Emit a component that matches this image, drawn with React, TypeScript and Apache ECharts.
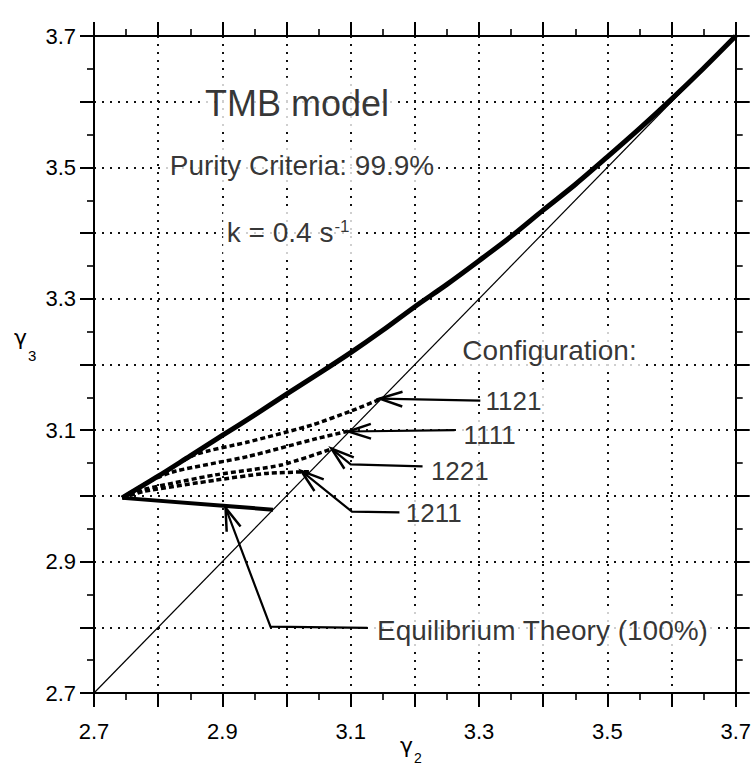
import React, { useEffect, useRef } from 'react';
import * as echarts from 'echarts';

// ---- data (gamma2, gamma3) ----
const upperX = [2.744, 2.8, 2.85, 2.9, 2.95, 3.0, 3.05, 3.1, 3.15, 3.2, 3.25, 3.3, 3.35, 3.4, 3.45, 3.5, 3.55, 3.6, 3.65, 3.7];
const upperY = [2.997, 3.03, 3.061, 3.092, 3.123, 3.155, 3.186, 3.218, 3.252, 3.288, 3.322, 3.358, 3.395, 3.435, 3.474, 3.516, 3.559, 3.604, 3.651, 3.7];

const eqX = [2.744, 2.979];
const eqY = [2.997, 2.979];

const diagX = [2.7, 3.7];
const diagY = [2.7, 3.7];

const c1121X = [2.744, 2.8, 2.858, 2.94, 3.04, 3.1, 3.148];
const c1121Y = [2.997, 3.03, 3.063, 3.082, 3.108, 3.129, 3.148];
const c1111X = [2.744, 2.79, 2.828, 2.94, 3.042, 3.098];
const c1111Y = [2.997, 3.024, 3.038, 3.06, 3.086, 3.099];
const c1221X = [2.744, 2.778, 2.889, 2.992, 3.072];
const c1221Y = [2.997, 3.01, 3.032, 3.047, 3.072];
const c1211X = [2.744, 2.778, 2.89, 2.966, 3.037];
const c1211Y = [2.997, 3.007, 3.024, 3.034, 3.037];

// arrow connectors: tip first, then elbow / end
const arrow1121 = [[3.145, 3.148], [3.302, 3.145]];
const arrow1111 = [[3.096, 3.098], [3.262, 3.1]];
const arrow1221 = [[3.07, 3.072], [3.1, 3.048], [3.212, 3.045]];
const arrow1211 = [[3.023, 3.038], [3.102, 2.976], [3.176, 2.975]];
const arrowEq = [[2.905, 2.982], [2.975, 2.801], [3.126, 2.799]];
const arrows = [arrow1121, arrow1111, arrow1221, arrow1211, arrowEq];

const noteTexts = ['TMB model', 'Purity Criteria: 99.9%', 'k = 0.4 s{sup|-1}', 'Configuration:', '1121', '1111', '1221', '1211', 'Equilibrium Theory (100%)'];
const noteX = [2.873, 2.818, 2.907, 3.274, 3.31, 3.276, 3.225, 3.186, 3.141];
const noteY = [3.597, 3.503, 3.401, 3.222, 3.145, 3.093, 3.038, 2.974, 2.795];

const AXIS_MIN = 2.7;
const AXIS_MAX = 3.7;
const STEP = 0.1;

const FONT = '"Liberation Sans", Arial, Helvetica, sans-serif';

const zip = (xs: number[], ys: number[]) => xs.map((x, i) => [x, ys[i]]);

const noteStyle = [
  { fontSize: 36, pad: [8, 5] },
  { fontSize: 28, pad: [7, 4] },
  { fontSize: 28, pad: [7, 4] },
  { fontSize: 28, pad: [5, 4] },
  { fontSize: 26, pad: [3, 3] },
  { fontSize: 26, pad: [3, 3] },
  { fontSize: 26, pad: [3, 3] },
  { fontSize: 26, pad: [3, 3] },
  { fontSize: 28, pad: [6, 4] },
];

const labelFmt = (v: number) => {
  const t = Math.round(v * 10);
  return t % 2 === 1 ? v.toFixed(1) : '';
};

function makeAxis(position: string, main: boolean) {
  return {
    type: 'value',
    min: AXIS_MIN,
    max: AXIS_MAX,
    interval: STEP,
    position,
    axisLine: { show: true, onZero: false, lineStyle: { color: '#000', width: 2 } },
    axisTick: { show: true, inside: false, length: 14, lineStyle: { color: '#000', width: 2 } },
    minorTick: { show: true, splitNumber: 2, length: 7, lineStyle: { color: '#000', width: 1.6 } },
    axisLabel: {
      show: main,
      formatter: labelFmt,
      fontSize: 22,
      fontFamily: FONT,
      color: '#000',
      margin: position === 'bottom' ? 27 : 18,
    },
    splitLine: { show: main, lineStyle: { color: '#111', width: 2, type: [2, 6] } },
    minorSplitLine: { show: false },
  };
}

export default function App() {
  const ref = useRef<HTMLDivElement>(null);

  useEffect(() => {
    if (!ref.current) return;
    const chart = echarts.init(ref.current, null, { renderer: 'svg' });

    const lineSeries = (name: string, xs: number[], ys: number[], width: number, type: any, z: number, smooth: any) => ({
      name,
      type: 'line',
      data: zip(xs, ys),
      symbol: 'none',
      smooth,
      lineStyle: { color: '#000', width, type, cap: 'butt', join: 'round' },
      z,
      silent: true,
    });

    const option: any = {
      animation: false,
      backgroundColor: '#fff',
      grid: { left: 94, right: 10, top: 36, bottom: 74, containLabel: false },
      xAxis: [makeAxis('bottom', true), makeAxis('top', false)],
      yAxis: [makeAxis('left', true), makeAxis('right', false)],
      graphic: [
        { type: 'text', x: 14, y: 337, style: { text: 'γ', fontSize: 22, fontFamily: '"DejaVu Sans", sans-serif', fill: '#000', verticalAlign: 'middle' } },
        { type: 'text', x: 28, y: 355, style: { text: '3', fontSize: 15, fontFamily: FONT, fill: '#000', verticalAlign: 'middle' } },
        { type: 'text', x: 400, y: 745, style: { text: 'γ', fontSize: 22, fontFamily: '"DejaVu Sans", sans-serif', fill: '#000', verticalAlign: 'middle' } },
        { type: 'text', x: 414, y: 758, style: { text: '2', fontSize: 14, fontFamily: FONT, fill: '#000', verticalAlign: 'middle' } },
      ],
      series: [
        lineSeries('diagonal', diagX, diagY, 1.2, 'solid', 2, false),
        lineSeries('1211', c1211X, c1211Y, 3.5, [5, 3], 3, 0.2),
        lineSeries('1221', c1221X, c1221Y, 3.5, [5, 3], 3, 0.2),
        lineSeries('1111', c1111X, c1111Y, 3.5, [5, 3], 3, 0.2),
        lineSeries('1121', c1121X, c1121Y, 3.5, [5, 3], 3, 0.2),
        lineSeries('equilibrium', eqX, eqY, 4, 'solid', 4, false),
        lineSeries('TMB', upperX, upperY, 5, 'solid', 4, 0.3),
        {
          name: 'arrows',
          type: 'custom',
          silent: true,
          clip: false,
          z: 5,
          data: arrows.map((a) => a[0]),
          renderItem: (params: any, api: any) => {
            const path = arrows[params.dataIndex];
            const pts = path.map((p) => api.coord(p));
            const tip = pts[0];
            const nxt = pts[1];
            const dx = nxt[0] - tip[0];
            const dy = nxt[1] - tip[1];
            const L = Math.hypot(dx, dy) || 1;
            const ux = dx / L;
            const uy = dy / L;
            const ang = (18 * Math.PI) / 180;
            const len = 24;
            const rot = (s: number) => [
              tip[0] + len * (ux * Math.cos(s) - uy * Math.sin(s)),
              tip[1] + len * (ux * Math.sin(s) + uy * Math.cos(s)),
            ];
            return {
              type: 'group',
              children: [
                { type: 'polyline', shape: { points: pts }, style: { stroke: '#000', lineWidth: 2.2, fill: null } },
                { type: 'polyline', shape: { points: [rot(ang), tip, rot(-ang)] }, style: { stroke: '#000', lineWidth: 2.5, fill: null } },
              ],
            };
          },
        },
        {
          name: 'notes',
          type: 'scatter',
          symbolSize: 0,
          silent: true,
          z: 6,
          data: noteTexts.map((t, i) => ({
            value: [noteX[i], noteY[i]],
            label: {
              show: true,
              position: 'right',
              distance: 0,
              offset: [-noteStyle[i].pad[1], 0],
              formatter: t,
              fontSize: noteStyle[i].fontSize,
              fontFamily: FONT,
              color: '#000',
              backgroundColor: '#fff',
              padding: noteStyle[i].pad,
              rich: {
                sup: { fontSize: 17, fontFamily: FONT, color: '#000', verticalAlign: 'top', padding: [0, 0, 12, 1] },
              },
            },
          })),
        },
      ],
    };

    chart.setOption(option);
    return () => chart.dispose();
  }, []);

  return (
    <div style={{ position: 'fixed', left: 0, top: 0, width: 754, height: 767, background: '#fff' }}>
      <div ref={ref} style={{ width: 754, height: 767 }} />
    </div>
  );
}
